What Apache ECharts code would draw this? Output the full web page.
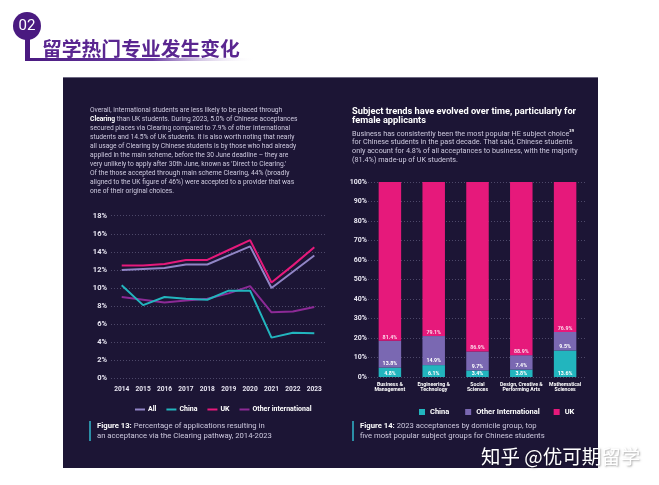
<!DOCTYPE html>
<html><head><meta charset="utf-8">
<script src="https://cdn.jsdelivr.net/npm/echarts@6/dist/echarts.min.js"></script>
<style>html,body{margin:0;padding:0;background:#fff}#c{width:659px;height:485px}</style>
</head><body><div id="c"></div>
<script>
// ---- data ----
const years = ['2014','2015','2016','2017','2018','2019','2020','2021','2022','2023'];
const allRate = [12.0,12.1,12.2,12.6,12.6,13.6,14.6,10.0,11.8,13.6];
const chinaRate = [10.3,8.1,9.0,8.8,8.7,9.7,9.7,4.5,5.05,5.0];
const ukRate = [12.5,12.5,12.65,13.1,13.1,14.2,15.3,10.6,12.5,14.5];
const otherRate = [9.0,8.7,8.4,8.6,8.8,9.4,10.2,7.3,7.4,7.9];
const subjects = ['Business &\nManagement','Engineering &\nTechnology','Social\nSciences','Design, Creative &\nPerforming Arts','Mathematical\nSciences'];
const chinaShare = [4.8,6.1,3.4,3.8,13.6];
const otherShare = [13.8,14.9,9.7,7.4,9.5];
const ukShare = [81.4,79.1,86.9,88.9,76.9];

const C_UK = '#e6197b', C_ALL = '#9185c6', C_CN = '#22b5be', C_OTH = '#8c2a96', C_OTHBAR = '#7a68b2';
const F = 'Roboto, "Noto Sans", sans-serif';
const TXT = '#cdc9de';

const chart = echarts.init(document.getElementById('c'), null, {renderer:'canvas'});

const leftPara = "Overall, international students are less likely to be placed through\n{b|Clearing} than UK students. During 2023, 5.0% of Chinese acceptances\nsecured places via Clearing compared to 7.9% of other international\nstudents and 14.5% of UK students. It is also worth noting that nearly\nall usage of Clearing by Chinese students is by those who had already\napplied in the main scheme, before the 30 June deadline – they are\nvery unlikely to apply after 30th June, known as 'Direct to Clearing.'\nOf the those accepted through main scheme Clearing, 44% (broadly\naligned to the UK figure of 46%) were accepted to a provider that was\none of their original choices.";
const rightPara = "Business has consistently been the most popular HE subject choice{s|29}\nfor Chinese students in the past decade. That said, Chinese students\nonly account for 4.8% of all acceptances to business, with the majority\n(81.4%) made-up of UK students.";

function txt(x, y, text, o) {
  return {type:'text', z:50, x:x, y:y, style:Object.assign({text:text, fill:TXT, fontFamily:F, fontSize:7, verticalAlign:'top', align:'left'}, o||{})};
}

const option = {
  backgroundColor:'#ffffff',
  animation:false,
  textStyle:{fontFamily:F},
  graphic:[
    // panel
    {type:'rect', z:-100, shape:{x:63,y:77,width:535,height:391}, style:{fill:'#1c1535'}},
    {type:'rect', z:-99, shape:{x:63,y:77,width:535,height:1}, style:{fill:'#6e6a83'}},
    // header
    {type:'rect', z:10, shape:{x:25,y:58,width:232,height:3}, style:{fill:new echarts.graphic.LinearGradient(0,0,1,0,[{offset:0,color:'#4a1a80'},{offset:0.55,color:'#6b3ca3'},{offset:1,color:'rgba(255,255,255,0)'}])}},
    {type:'rect', z:10, shape:{x:25,y:30,width:5,height:31}, style:{fill:'#4a1a80'}},
    {type:'circle', z:11, shape:{cx:27,cy:26,r:14}, style:{fill:'#4a1a80'}},
    {type:'text', z:12, x:27, y:26, style:{text:'02', fill:'#fff', fontFamily:F, fontSize:15, align:'center', verticalAlign:'middle'}},
    {type:'text', z:12, x:42, y:48, style:{text:'留学热门专业发生变化', fill:'#5a2690', fontFamily:'"Noto Sans CJK SC"', fontWeight:'bold', fontSize:19.8, align:'left', verticalAlign:'middle'}},
    // left paragraph
    txt(90, 106, leftPara, {fontSize:6.7, lineHeight:8.95, rich:{b:{fontWeight:'bold', fill:'#ffffff', fontSize:6.7, fontFamily:F}}}),
    // right title
    txt(352, 107.5, 'Subject trends have evolved over time, particularly for\nfemale applicants', {fill:'#ffffff', fontWeight:'bold', fontSize:9.25, lineHeight:9}),
    txt(352, 129.3, rightPara, {fontSize:7.25, lineHeight:8.8, rich:{s:{fontSize:4, fontWeight:'bold', fill:'#ffffff', verticalAlign:'top', fontFamily:F}}}),
    // captions
    {type:'rect', z:50, shape:{x:89,y:421,width:2,height:20}, style:{fill:'#2b8ea6'}},
    txt(97, 421, '{b|Figure 13:} Percentage of applications resulting in\nan acceptance via the Clearing pathway, 2014-2023', {fontSize:7.7, lineHeight:10, rich:{b:{fontWeight:'bold', fill:'#ffffff', fontSize:7.7, fontFamily:F}}}),
    {type:'rect', z:50, shape:{x:352,y:421,width:2,height:20}, style:{fill:'#2b8ea6'}},
    txt(360, 421, '{b|Figure 14:} 2023 acceptances by domicile group, top\nfive most popular subject groups for Chinese students', {fontSize:7.7, lineHeight:10, rich:{b:{fontWeight:'bold', fill:'#ffffff', fontSize:7.7, fontFamily:F}}}),
    // watermark
    {type:'text', z:200, x:481, y:457, style:{text:'知乎 @优可期留学', fill:'#ffffff', fontFamily:'"Noto Sans CJK SC"', fontSize:19.5, align:'left', verticalAlign:'middle', textShadowColor:'rgba(0,0,0,0.35)', textShadowBlur:2, textShadowOffsetX:1, textShadowOffsetY:1}}
  ],
  legend:[
    {left:130, top:401, itemWidth:10, itemHeight:2, itemGap:10, icon:'rect',
     textStyle:{color:'#ffffff', fontSize:7, fontWeight:'bold', fontFamily:F, padding:[0,0,0,-2]},
     data:['All','China','UK','Other international']},
    {left:414, top:403, itemWidth:6, itemHeight:6, itemGap:14, icon:'rect',
     textStyle:{color:'#ffffff', fontSize:7.5, fontWeight:'bold', fontFamily:F},
     data:[{name:'China ',itemStyle:{color:C_CN}},{name:'Other International',itemStyle:{color:C_OTHBAR}},{name:'UK ',itemStyle:{color:C_UK}}]}
  ],
  grid:[
    {left:111, top:215.7, width:214, height:162.6, containLabel:false, outerBoundsMode:'none'},
    {left:368, top:182, width:219, height:195, containLabel:false, outerBoundsMode:'none'}
  ],
  xAxis:[
    {type:'category', gridIndex:0, data:years, boundaryGap:true,
     axisLine:{show:false}, axisTick:{show:false},
     axisLabel:{color:'#e8e6f2', fontSize:6.6, fontWeight:'bold', margin:8, interval:0}},
    {type:'category', gridIndex:1, data:subjects,
     axisLine:{show:false}, axisTick:{show:false},
     axisLabel:{color:'#ffffff', fontSize:5.2, fontWeight:'bold', lineHeight:5.4, margin:5, interval:0}}
  ],
  yAxis:[
    {type:'value', gridIndex:0, min:0, max:18, interval:2,
     axisLine:{show:false}, axisTick:{show:false},
     axisLabel:{color:'#e8e6f2', fontSize:7.5, fontWeight:'bold', margin:4, formatter:'{value}%'},
     splitLine:{lineStyle:{color:'#4d4869', type:[1,2], width:1}}},
    {type:'value', gridIndex:1, min:0, max:100, interval:10,
     axisLine:{show:false}, axisTick:{show:false},
     axisLabel:{color:'#e8e6f2', fontSize:7, fontWeight:'bold', margin:1, formatter:'{value}%'},
     splitLine:{lineStyle:{color:'#4d4869', type:[1,2], width:1}}}
  ],
  series:[
    {name:'Other international', type:'line', xAxisIndex:0, yAxisIndex:0, data:otherRate, symbol:'none', lineStyle:{color:C_OTH,width:2}, itemStyle:{color:C_OTH}, z:3},
    {name:'China', type:'line', xAxisIndex:0, yAxisIndex:0, data:chinaRate, symbol:'none', lineStyle:{color:C_CN,width:2}, itemStyle:{color:C_CN}, z:4},
    {name:'All', type:'line', xAxisIndex:0, yAxisIndex:0, data:allRate, symbol:'none', lineStyle:{color:C_ALL,width:2}, itemStyle:{color:C_ALL}, z:5},
    {name:'UK', type:'line', xAxisIndex:0, yAxisIndex:0, data:ukRate, symbol:'none', lineStyle:{color:C_UK,width:2}, itemStyle:{color:C_UK}, z:6},
    {name:'China ', type:'bar', xAxisIndex:1, yAxisIndex:1, stack:'s', data:chinaShare, barWidth:22.5, itemStyle:{color:C_CN},
     label:{show:true, position:'insideBottom', distance:1, color:'#ffffff', fontSize:5.3, fontWeight:'bold', formatter:p=>p.value.toFixed(1)+'%'}},
    {name:'Other International', type:'bar', xAxisIndex:1, yAxisIndex:1, stack:'s', data:otherShare, barWidth:22.5, itemStyle:{color:C_OTHBAR},
     label:{show:true, position:'insideBottom', distance:1.5, color:'#ffffff', fontSize:5.3, fontWeight:'bold', formatter:p=>p.value.toFixed(1)+'%'}},
    {name:'UK ', type:'bar', xAxisIndex:1, yAxisIndex:1, stack:'s', data:ukShare, barWidth:22.5, itemStyle:{color:C_UK},
     label:{show:true, position:'insideBottom', distance:1, color:'#fcd6e8', fontSize:5.3, fontWeight:'bold', formatter:p=>p.value.toFixed(1)+'%'}}
  ]
};
chart.setOption(option);
</script>
</body></html>
